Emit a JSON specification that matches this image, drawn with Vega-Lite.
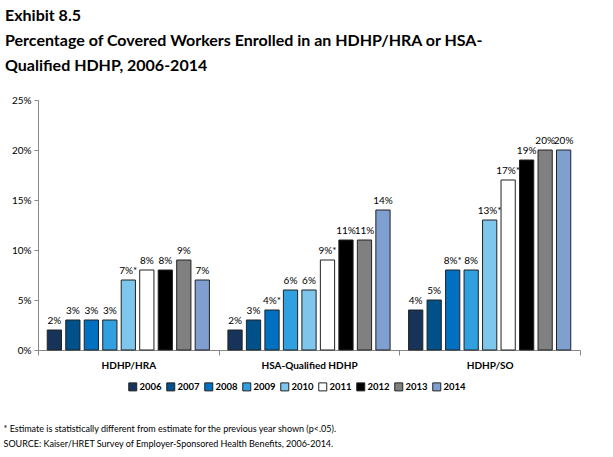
{
  "$schema": "https://vega.github.io/schema/vega-lite/v6.json",
  "width": 542,
  "height": 250,
  "autosize": {"type": "none"},
  "padding": {"left": 38, "top": 100, "right": 33, "bottom": 107},
  "background": "white",
  "config": {
    "font": "Lato",
    "view": {"stroke": null}
  },
  "title": {
    "text": ["Exhibit 8.5", "Percentage of Covered Workers Enrolled in an HDHP/HRA or HSA-", "Qualified HDHP, 2006-2014"],
    "anchor": "start",
    "frame": "group",
    "align": "left",
    "dx": -33,
    "offset": 21,
    "fontSize": 16,
    "lineHeight": 25,
    "fontWeight": "bold",
    "color": "#000000",
    "font": "Lato"
  },
  "data": {
    "values": [
      {"cat": "HDHP/HRA", "year": "2006", "value": 2, "label": "2%"},
      {"cat": "HDHP/HRA", "year": "2007", "value": 3, "label": "3%"},
      {"cat": "HDHP/HRA", "year": "2008", "value": 3, "label": "3%"},
      {"cat": "HDHP/HRA", "year": "2009", "value": 3, "label": "3%"},
      {"cat": "HDHP/HRA", "year": "2010", "value": 7, "label": "7%*"},
      {"cat": "HDHP/HRA", "year": "2011", "value": 8, "label": "8%"},
      {"cat": "HDHP/HRA", "year": "2012", "value": 8, "label": "8%"},
      {"cat": "HDHP/HRA", "year": "2013", "value": 9, "label": "9%"},
      {"cat": "HDHP/HRA", "year": "2014", "value": 7, "label": "7%"},
      {"cat": "HSA-Qualified HDHP", "year": "2006", "value": 2, "label": "2%"},
      {"cat": "HSA-Qualified HDHP", "year": "2007", "value": 3, "label": "3%"},
      {"cat": "HSA-Qualified HDHP", "year": "2008", "value": 4, "label": "4%*"},
      {"cat": "HSA-Qualified HDHP", "year": "2009", "value": 6, "label": "6%"},
      {"cat": "HSA-Qualified HDHP", "year": "2010", "value": 6, "label": "6%"},
      {"cat": "HSA-Qualified HDHP", "year": "2011", "value": 9, "label": "9%*"},
      {"cat": "HSA-Qualified HDHP", "year": "2012", "value": 11, "label": "11%"},
      {"cat": "HSA-Qualified HDHP", "year": "2013", "value": 11, "label": "11%"},
      {"cat": "HSA-Qualified HDHP", "year": "2014", "value": 14, "label": "14%"},
      {"cat": "HDHP/SO", "year": "2006", "value": 4, "label": "4%"},
      {"cat": "HDHP/SO", "year": "2007", "value": 5, "label": "5%"},
      {"cat": "HDHP/SO", "year": "2008", "value": 8, "label": "8%*"},
      {"cat": "HDHP/SO", "year": "2009", "value": 8, "label": "8%"},
      {"cat": "HDHP/SO", "year": "2010", "value": 13, "label": "13%*"},
      {"cat": "HDHP/SO", "year": "2011", "value": 17, "label": "17%*"},
      {"cat": "HDHP/SO", "year": "2012", "value": 19, "label": "19%"},
      {"cat": "HDHP/SO", "year": "2013", "value": 20, "label": "20%"},
      {"cat": "HDHP/SO", "year": "2014", "value": 20, "label": "20%"}
    ]
  },
  "encoding": {
    "x": {
      "field": "cat",
      "type": "nominal",
      "sort": ["HDHP/HRA", "HSA-Qualified HDHP", "HDHP/SO"],
      "scale": {"paddingInner": 0, "paddingOuter": 0},
      "axis": {
        "title": ["* Estimate is statistically different from estimate for the previous year shown (p<.05).", "SOURCE:  Kaiser/HRET Survey of Employer-Sponsored Health Benefits, 2006-2014."],
        "titleX": -35,
        "titleY": 74,
        "titleAlign": "left",
        "titleAnchor": null,
        "titleBaseline": "top",
        "titleFontSize": 9,
        "titleFontWeight": "normal",
        "titleLineHeight": 15,
        "titleColor": "#000000",
        "labelAngle": 0,
        "labelFontSize": 10,
        "labelFontWeight": "bold",
        "labelColor": "#000000",
        "labelPadding": 5,
        "tickBand": "extent",
        "tickSize": 5,
        "tickColor": "#888888",
        "domainColor": "#888888",
        "grid": false
      }
    },
    "y": {
      "field": "value",
      "type": "quantitative",
      "scale": {"domain": [0, 25], "nice": false},
      "axis": {
        "title": null,
        "values": [0, 5, 10, 15, 20, 25],
        "labelExpr": "datum.value + '%'",
        "labelFontSize": 10,
        "labelColor": "#000000",
        "labelPadding": 3,
        "tickSize": 4,
        "tickColor": "#888888",
        "domainColor": "#888888",
        "grid": false
      }
    }
  },
  "layer": [
    {
      "mark": {"type": "bar", "stroke": "#222222", "strokeWidth": 1},
      "encoding": {
        "xOffset": {
          "field": "year",
          "type": "nominal",
          "scale": {"paddingInner": 0.23, "paddingOuter": 0.5}
        },
        "color": {
          "field": "year",
          "type": "nominal",
          "scale": {
            "domain": ["2006", "2007", "2008", "2009", "2010", "2011", "2012", "2013", "2014"],
            "range": ["#17335a", "#00518a", "#0070c0", "#30a0e0", "#7fc6ec", "#ffffff", "#000000", "#808080", "#7f9fd0"]
          },
          "legend": {
            "title": null,
            "orient": "none",
            "direction": "horizontal",
            "columns": 9,
            "legendX": 90,
            "legendY": 282,
            "padding": 0,
            "symbolType": "square",
            "symbolSize": 64,
            "symbolStrokeColor": "#222222",
            "symbolStrokeWidth": 1,
            "labelFontSize": 9.5,
            "labelFontWeight": "bold",
            "labelColor": "#000000",
            "labelOffset": 2,
            "columnPadding": 2
          }
        }
      }
    },
    {
      "mark": {"type": "text", "baseline": "bottom", "dy": -4, "fontSize": 10, "color": "#000000"},
      "encoding": {
        "xOffset": {"field": "year", "type": "nominal"},
        "text": {"field": "label", "type": "nominal"}
      }
    },
    {
      "data": {"values": [{"cat": "HDHP/SO"}]},
      "mark": {"type": "rule", "strokeDash": [2, 2], "color": "#444444", "strokeWidth": 1},
      "encoding": {
        "x": {"field": "cat", "type": "nominal", "bandPosition": 0},
        "y": {"datum": 25},
        "y2": {"datum": -0.5}
      }
    }
  ]
}
